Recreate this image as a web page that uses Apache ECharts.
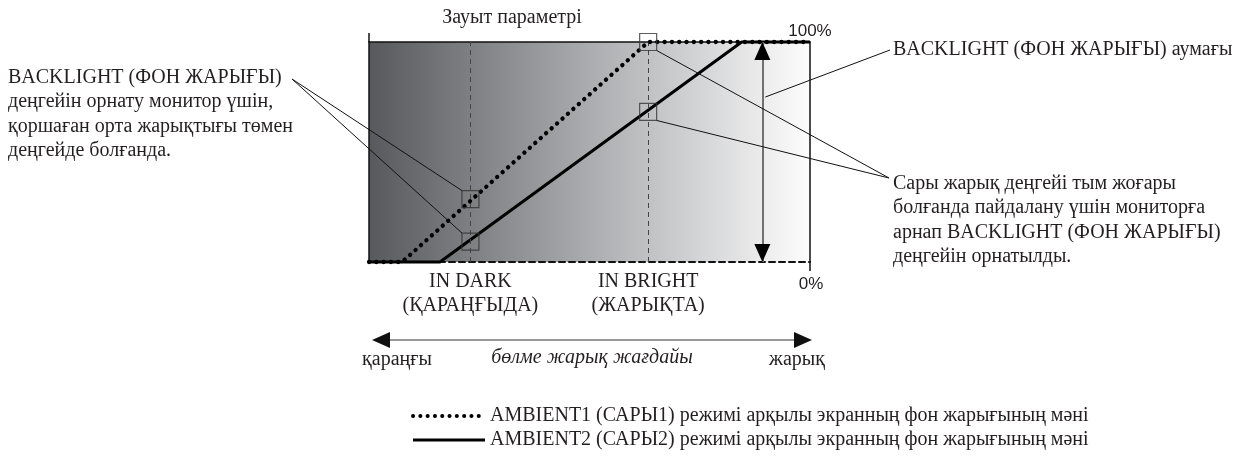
<!DOCTYPE html>
<html><head><meta charset="utf-8">
<script src="https://cdn.jsdelivr.net/npm/echarts@6/dist/echarts.min.js"></script>
<style>html,body{margin:0;padding:0;background:#fff}#c{width:1238px;height:463px}</style>
</head><body><div id="c"></div>
<script>
// ---- data ----
const ambient1X = [0, 7.5, 63.3, 100];
const ambient1Y = [0, 0, 100, 100];
const ambient2X = [0, 16.1, 84.5, 100];
const ambient2Y = [0, 0, 100, 100];
const conditionX = [23.0, 63.3];
const conditionLabels = ['IN DARK\n(ҚАРАҢҒЫДА)', 'IN BRIGHT\n(ЖАРЫҚТА)'];
const markerX = [23.0, 23.0, 63.3, 63.3];
const markerY = [28.6, 9.3, 100, 68.2];
const rangeX = 89.2;
const rangeY = [0, 100];
const yTickLabels = ['0%', '100%'];
const ambient1Name = 'AMBIENT1 (САРЫ1) режимі арқылы экранның фон жарығының мәні';
const ambient2Name = 'AMBIENT2 (САРЫ2) режимі арқылы экранның фон жарығының мәні';
const titleText = 'Зауыт параметрі';
const leftNote = 'BACKLIGHT (ФОН ЖАРЫҒЫ)\nдеңгейін орнату монитор үшін,\nқоршаған орта жарықтығы төмен\nдеңгейде болғанда.';
const rangeNote = 'BACKLIGHT (ФОН ЖАРЫҒЫ) аумағы';
const rightNote = 'Сары жарық деңгейі тым жоғары\nболғанда пайдалану үшін мониторға\nарнап BACKLIGHT (ФОН ЖАРЫҒЫ)\nдеңгейін орнатылды.';
const roomLabels = ['қараңғы', 'бөлме жарық жағдайы', 'жарық'];

const SERIF = '"Liberation Serif", "DejaVu Serif", serif';
const SANS = '"Liberation Sans", Arial, sans-serif';
const INK = '#231f20';
const FS = 20;
const DOTS = [0.1, 7.2];

const chart = echarts.init(document.getElementById('c'), null, {renderer: 'canvas'});

const zip = (xs, ys) => xs.map((x, i) => [x, ys[i]]);

const option = {
  animation: false,
  backgroundColor: '#fff',
  color: ['#000', '#000', '#333'],
  grid: {
    left: 369, right: 428, top: 42, bottom: 201, show: true, borderWidth: 0,
    backgroundColor: {type: 'linear', x: 0, y: 0, x2: 1, y2: 0,
      colorStops: [{offset: 0, color: '#58595d'}, {offset: 0.5, color: '#abacaf'}, {offset: 1, color: '#fdfdfd'}]}
  },
  xAxis: [
    {type: 'value', min: 0, max: 100, position: 'bottom',
      axisLine: {show: true, onZero: false, lineStyle: {color: '#111', width: 2, type: [6, 4]}},
      axisTick: {show: false}, axisLabel: {show: false}, splitLine: {show: false}},
    {type: 'value', min: 0, max: 100, position: 'top',
      axisLine: {show: true, onZero: false, lineStyle: {color: '#111', width: 1.5}},
      axisTick: {show: false}, axisLabel: {show: false}, splitLine: {show: false}}
  ],
  yAxis: [
    {type: 'value', min: 0, max: 100, position: 'left',
      axisLine: {show: true, onZero: false, lineStyle: {color: '#111', width: 1.5}},
      axisTick: {show: false}, axisLabel: {show: false}, splitLine: {show: false}},
    {type: 'value', min: 0, max: 100, position: 'right',
      axisLine: {show: true, onZero: false, lineStyle: {color: '#111', width: 1.5}},
      axisTick: {show: false}, axisLabel: {show: false}, splitLine: {show: false}}
  ],
  legend: {
    orient: 'vertical', left: 411, top: 406, padding: 0, itemWidth: 72, itemHeight: 14, itemGap: 4,
    data: [
      {name: ambient1Name, lineStyle: {color: '#000', width: 4, type: DOTS, cap: 'round'}},
      {name: ambient2Name, lineStyle: {color: '#000', width: 3, type: 'solid'}}
    ],
    itemStyle: {opacity: 0},
    textStyle: {fontFamily: SERIF, fontSize: FS, color: INK, lineHeight: 14},
    selectedMode: false
  },
  series: [
    {
      name: ambient1Name, type: 'line', data: zip(ambient1X, ambient1Y), symbol: 'none', clip: false, z: 5,
      itemStyle: {color: '#000'},
      lineStyle: {color: '#000', width: 4.3, type: DOTS, cap: 'round'},
      markLine: {
        silent: true, symbol: ['none', 'none'], animation: false,
        lineStyle: {color: '#444', width: 1, type: [5, 4]},
        label: {show: true, position: 'start', distance: 8, fontFamily: SERIF, fontSize: FS, color: INK, lineHeight: 24, align: 'center'},
        data: conditionX.map((x, i) => ({xAxis: x, label: {formatter: conditionLabels[i]}}))
      }
    },
    {
      name: ambient2Name, type: 'line', data: zip(ambient2X, ambient2Y), symbol: 'none', clip: false, z: 4,
      itemStyle: {color: '#000'},
      lineStyle: {color: '#000', width: 3},
      markLine: {
        silent: true, symbol: ['none', 'none'], animation: false,
        lineStyle: {color: '#707070', width: 2, type: 'solid'},
        label: {show: false},
        data: [[{coord: [rangeX, rangeY[0]]}, {coord: [rangeX, rangeY[1]]}]]
      },
      markPoint: {
        silent: true, animation: false, symbol: 'triangle', symbolSize: [16, 18],
        itemStyle: {color: '#000'}, label: {show: false},
        data: [
          {coord: [rangeX, rangeY[1] - 4.1], symbolRotate: 0},
          {coord: [rangeX, rangeY[0] + 4.1], symbolRotate: 180}
        ]
      }
    },
    {
      name: 'markers', type: 'scatter', data: zip(markerX, markerY), symbol: 'rect', symbolSize: 17, clip: false, z: 6,
      itemStyle: {color: 'rgba(0,0,0,0)', borderColor: '#333', borderWidth: 1.2},
      emphasis: {disabled: true}, silent: true
    }
  ]
};
chart.setOption(option);

const px = (x, y) => chart.convertToPixel({xAxisIndex: 0, yAxisIndex: 0}, [x, y]);
const p00 = px(0, 0), p11 = px(100, 100);
const L = p00[0], B = p00[1], R = p11[0], T = p11[1];
const mk = markerX.map((x, i) => px(x, markerY[i]));
const half = 8.5;
const rangeP = px(rangeX, 60);

const lineEl = (x1, y1, x2, y2, w, c) => ({type: 'line', shape: {x1, y1, x2, y2}, style: {stroke: c || '#111', lineWidth: w || 1}, silent: true, z: 10});
const textEl = (text, x, y, opts) => ({type: 'text', x, y, silent: true, z: 10,
  style: Object.assign({text, fill: INK, font: FS + 'px ' + SERIF, textAlign: 'left', textVerticalAlign: 'middle'}, opts || {})});

const ay = 340;
const graphic = [
  lineEl(L, T - 9, L, T, 1.5),
  lineEl(R, B, R, B + 9, 1.5),
  textEl(titleText, 512, 18, {textAlign: 'center'}),
  textEl(yTickLabels[1], R, T - 11, {textAlign: 'center', font: '17px ' + SANS}),
  textEl(yTickLabels[0], R + 1, B + 22, {textAlign: 'center', font: '17px ' + SANS}),
  textEl(leftNote, 8, 65, {textVerticalAlign: 'top', lineHeight: 24.5}),
  lineEl(292, 79, mk[0][0] - half, mk[0][1] - half, 1),
  lineEl(292, 79, mk[1][0] - half, mk[1][1] - half, 1),
  textEl(rangeNote, 893, 50),
  lineEl(890, 50, rangeP[0] + 3, 97, 1),
  textEl(rightNote, 893, 171, {textVerticalAlign: 'top', lineHeight: 24.6}),
  lineEl(889, 178, mk[2][0] + half, mk[2][1] + half, 1),
  lineEl(889, 178, mk[3][0] + half, mk[3][1] + half, 1),
  lineEl(L + 18, ay, R - 15, ay, 1.2, '#333'),
  {type: 'polygon', shape: {points: [[L + 3, ay], [L + 21, ay - 8], [L + 21, ay + 8]]}, style: {fill: '#111'}, silent: true, z: 10},
  {type: 'polygon', shape: {points: [[R + 2, ay], [R - 16, ay - 8], [R - 16, ay + 8]]}, style: {fill: '#111'}, silent: true, z: 10},
  textEl(roomLabels[0], 397, 360, {textAlign: 'center'}),
  textEl(roomLabels[1], 592, 358, {textAlign: 'center', font: 'italic ' + FS + 'px ' + SERIF}),
  textEl(roomLabels[2], 797, 360, {textAlign: 'center'})
];
chart.setOption({graphic});
</script>
</body></html>
